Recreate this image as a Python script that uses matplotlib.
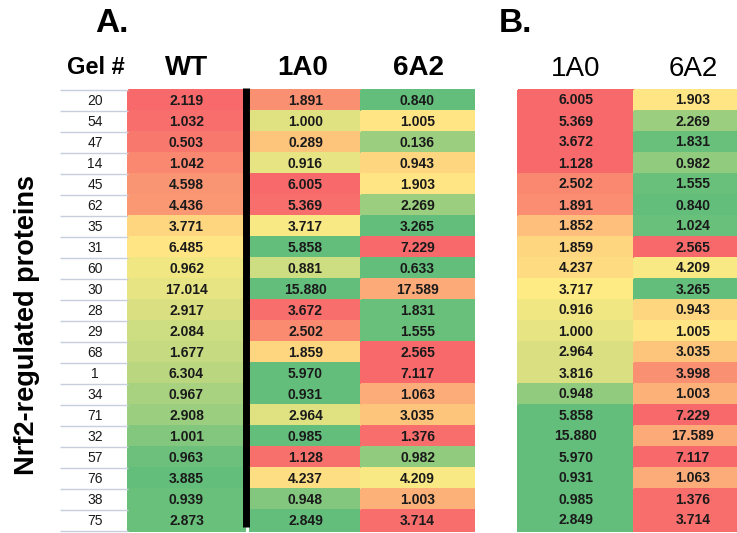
import numpy as np
import matplotlib
matplotlib.use('Agg')
from matplotlib import pyplot as plt
from matplotlib.colors import LinearSegmentedColormap

plt.rcParams['font.family'] = ['Liberation Sans', 'DejaVu Sans']

# panel A: all proteins in gel order
gel_ids = [20, 54, 47, 14, 45, 62, 35, 31, 60, 30, 28, 29, 68, 1, 34, 71, 32, 57, 76, 38, 75]
wt_vals = [2.119, 1.032, 0.503, 1.042, 4.598, 4.436, 3.771, 6.485, 0.962, 17.014, 2.917,
           2.084, 1.677, 6.304, 0.967, 2.908, 1.001, 0.963, 3.885, 0.939, 2.873]
a_1a0_vals = [1.891, 1.000, 0.289, 0.916, 6.005, 5.369, 3.717, 5.858, 0.881, 15.880, 3.672,
              2.502, 1.859, 5.970, 0.931, 2.964, 0.985, 1.128, 4.237, 0.948, 2.849]
a_6a2_vals = [0.840, 1.005, 0.136, 0.943, 1.903, 2.269, 3.265, 7.229, 0.633, 17.589, 1.831,
              1.555, 2.565, 7.117, 1.063, 3.035, 1.376, 0.982, 4.209, 1.003, 3.714]

# colour scale position of every cell: 0 = red, 0.5 = yellow, 1 = green
wt_scale = [0.0, 0.02, 0.06, 0.12, 0.17, 0.18, 0.42, 0.48, 0.55, 0.58, 0.62,
            0.66, 0.68, 0.72, 0.78, 0.82, 0.90, 0.97, 1.0, 0.98, 0.98]
a_1a0_scale = [0.15, 0.60, 0.35, 0.58, 0.0, 0.02, 0.52, 1.0, 0.66, 1.0, 0.02,
               0.13, 0.42, 1.0, 1.0, 0.60, 1.0, 0.03, 0.45, 0.90, 1.0]
a_6a2_scale = [1.0, 0.48, 0.82, 0.42, 0.48, 0.82, 1.0, 0.0, 1.0, 0.25, 0.98,
               0.98, 0.0, 0.0, 0.26, 0.35, 0.02, 0.85, 0.52, 0.28, 0.02]

# panel B: mutants re-sorted
b_1a0_vals = [6.005, 5.369, 3.672, 1.128, 2.502, 1.891, 1.852, 1.859, 4.237, 3.717, 0.916,
              1.000, 2.964, 3.816, 0.948, 5.858, 15.880, 5.970, 0.931, 0.985, 2.849]
b_6a2_vals = [1.903, 2.269, 1.831, 0.982, 1.555, 0.840, 1.024, 2.565, 4.209, 3.265, 0.943,
              1.005, 3.035, 3.998, 1.003, 7.229, 17.589, 7.117, 1.063, 1.376, 3.714]
b_1a0_scale = [0.0, 0.0, 0.0, 0.0, 0.12, 0.14, 0.33, 0.42, 0.44, 0.50, 0.55,
               0.58, 0.62, 0.62, 0.85, 1.0, 1.0, 1.0, 1.0, 1.0, 1.0]
b_6a2_scale = [0.48, 0.82, 0.98, 0.85, 0.98, 1.0, 0.98, 0.0, 0.52, 1.0, 0.42,
               0.48, 0.35, 0.15, 0.28, 0.0, 0.25, 0.0, 0.26, 0.02, 0.02]

cmap = LinearSegmentedColormap.from_list('ryg', ['#F8696B', '#FFEB84', '#63BE7B'])

fig = plt.figure(figsize=(7.37, 5.33), dpi=100)
ax = fig.add_axes([0, 0, 1, 1])
ax.set_xlim(0, 737)
ax.set_ylim(533, 0)
ax.axis('off')

row_h = 21.0


def draw_column(x0, x1, top, vals, scale):
    edges = top + np.arange(len(vals) + 1) * row_h
    ax.pcolormesh([x0, x1], edges, np.array(scale).reshape(-1, 1), cmap=cmap,
                  vmin=0, vmax=1, shading='flat', edgecolors='face', linewidth=0.3)
    centers = (edges[:-1] + edges[1:]) / 2
    for y, v in zip(centers, vals):
        ax.text((x0 + x1) / 2, y + 0.5, f'{v:.3f}', ha='center', va='center',
                fontsize=10, fontweight='bold', color='#1a1a1a')


# panel A
top_a = 90.0
edges_a = top_a + np.arange(len(gel_ids) + 1) * row_h
ax.hlines(edges_a, 60, 128, color='#c8cfdc', lw=1)
for y, g in zip((edges_a[:-1] + edges_a[1:]) / 2, gel_ids):
    ax.text(95, y + 0.5, str(g), ha='center', va='center', fontsize=10,
            family=['Liberation Sans Narrow', 'Liberation Sans'], color='#1a1a1a')

draw_column(128, 245, top_a, wt_vals, wt_scale)
draw_column(250, 361, top_a, a_1a0_vals, a_1a0_scale)
draw_column(361, 474, top_a, a_6a2_vals, a_6a2_scale)
ax.vlines(246.5, 88, 527, color='black', lw=5)

ax.text(112, 24, 'A.', ha='center', va='center', fontsize=24, fontweight='bold')
ax.text(96, 68, 'Gel #', ha='center', va='center', fontsize=17, fontweight='bold')
for x, lab in [(187, 'WT'), (303, '1A0'), (419, '6A2')]:
    ax.text(x, 68, lab, ha='center', va='center', fontsize=20, fontweight='bold')

ax.text(27, 325, 'Nrf2-regulated proteins', ha='center', va='center', rotation=90,
        fontsize=19.5, fontweight='bold')

# panel B
top_b = 89.5
draw_column(518, 634, top_b, b_1a0_vals, b_1a0_scale)
draw_column(634, 752, top_b, b_6a2_vals, b_6a2_scale)

ax.text(515, 24, 'B.', ha='center', va='center', fontsize=24, fontweight='bold')
for x, lab in [(576, '1A0'), (693, '6A2')]:
    ax.text(x, 69, lab, ha='center', va='center', fontsize=20)

fig.savefig('out.png', dpi=100)
